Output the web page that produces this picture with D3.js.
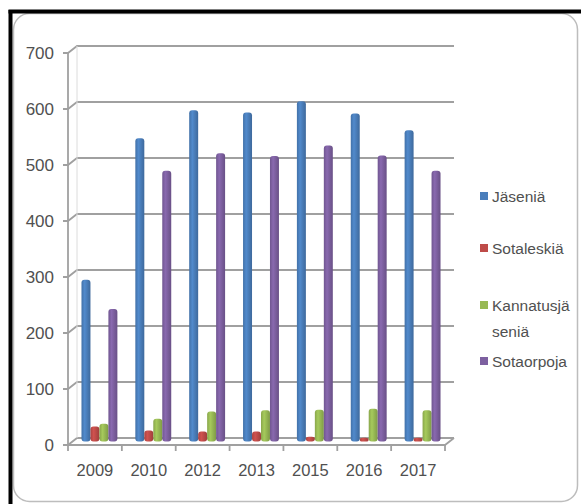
<!DOCTYPE html>
<html><head><meta charset="utf-8">
<script src="https://cdn.jsdelivr.net/npm/d3@7"></script>
<style>
html,body{margin:0;padding:0;background:#fff;}
svg{display:block;}
text{fill:#505050;}
.ax{font-family:"Liberation Sans",Arial,sans-serif;}
.lg{font-family:"Liberation Sans Narrow","Arial Narrow","Liberation Sans",sans-serif;}
</style></head><body>
<script>
const years = ["2009","2010","2012","2013","2015","2016","2017"];
const seriesNames = ["Jäseniä","Sotaleskiä","Kannatusjä seniä","Sotaorpoja"];
const jasenia     = [286, 539, 589, 585, 605, 583, 553];
const sotaleskia  = [24, 17, 15, 15, 6, 4, 4];
const kannatus    = [29, 38, 51, 53, 54, 56, 53];
const sotaorpoja  = [234, 481, 512, 507, 526, 508, 481];
const yTicks = [0,100,200,300,400,500,600,700];
const colors = ["#4A7EBB","#BE4B48","#98B954","#7D60A0"];
const seriesValues = [jasenia, sotaleskia, kannatus, sotaorpoja];

const W=581,H=504;
const svg=d3.select("body").append("svg").attr("width",W).attr("height",H);

// frame
svg.append("rect").attr("x",13.5).attr("y",13.5).attr("width",564).attr("height",488)
  .attr("rx",16).attr("fill","#fff").attr("stroke","#bdbdbd").attr("stroke-width",1.5);
svg.append("line").attr("x1",10.5).attr("x2",10.5).attr("y1",10).attr("y2",504).attr("stroke","#000").attr("stroke-width",4);
svg.append("line").attr("x1",8.5).attr("x2",581).attr("y1",11.5).attr("y2",11.5).attr("stroke","#000").attr("stroke-width",4);

const x=d3.scaleBand().domain(years).range([68,445]).padding(0);
const y=d3.scaleLinear().domain([0,700]).range([445,53]);
const xs=d3.scaleBand().domain(seriesNames).range([0,x.bandwidth()]).paddingInner(0).paddingOuter(1);
const DX=9, DY=-7;
const gridCol="#a0a0a0";

// back gridlines with connectors to front axis
const g=svg.append("g");
yTicks.forEach(t=>{
  const yf=y(t);
  g.append("path").attr("d",`M${x.range()[0]-5},${yf}L${x.range()[0]},${yf}L${x.range()[0]+DX},${yf+DY}L${x.range()[1]+DX},${yf+DY}`)
   .attr("fill","none").attr("stroke",gridCol).attr("stroke-width",1.8);
});
// y axis line
g.append("line").attr("x1",68).attr("x2",68).attr("y1",y(700)).attr("y2",y(0)).attr("stroke",gridCol).attr("stroke-width",1.8);
g.append("line").attr("x1",68+DX).attr("x2",68+DX).attr("y1",y(700)+DY).attr("y2",y(0)+DY).attr("stroke","#dcdcdc").attr("stroke-width",1);

// gradients
const defs=svg.append("defs");
colors.forEach((c,i)=>{
  const gr=defs.append("linearGradient").attr("id","g"+i).attr("x1","0").attr("x2","1").attr("y1","0").attr("y2","0");
  const cc=d3.color(c);
  gr.append("stop").attr("offset","0%").attr("stop-color",cc.darker(0.3));
  gr.append("stop").attr("offset","35%").attr("stop-color",cc.brighter(0.25));
  gr.append("stop").attr("offset","100%").attr("stop-color",cc.darker(0.5));
});

// bars at mid-depth
const bars=svg.append("g");
seriesNames.forEach((s,si)=>{
  years.forEach((yr,i)=>{
    const v=seriesValues[si][i];
    const bx=x(yr)+xs(s)+DX/2;
    const by0=y(0)+DY/2, by1=y(v)+DY/2;
    bars.append("rect").attr("x",bx).attr("y",by1-1.5).attr("width",xs.bandwidth())
      .attr("height",Math.max(by0-by1+1.5,2)).attr("rx",3).attr("fill",`url(#g${si})`);
  });
});

// floor lines
const fl=svg.append("g");
fl.append("path").attr("d",`M68,${y(0)}L${445},${y(0)}L${445+DX},${y(0)+DY}`).attr("fill","none").attr("stroke",gridCol).attr("stroke-width",1.8);
// x ticks
x.domain().concat(["end"]).forEach((yr,i)=>{
  const xx= i<years.length ? x(yr) : 445;
  fl.append("line").attr("x1",xx).attr("x2",xx).attr("y1",y(0)).attr("y2",y(0)+6).attr("stroke",gridCol).attr("stroke-width",1.8);
});

// y labels
svg.append("g").attr("class","ax").selectAll("text").data(yTicks).join("text")
  .attr("x",54).attr("y",d=>y(d)).attr("dy","0.36em").attr("text-anchor","end")
  .attr("font-size",17).text(d=>d);
// x labels
svg.append("g").attr("class","ax").selectAll("text").data(years).join("text")
  .attr("x",d=>x(d)+x.bandwidth()/2).attr("y",476).attr("text-anchor","middle")
  .attr("font-size",16.5).text(d=>d);

// legend
const legY=[196,248,305,361];
const lg=svg.append("g").attr("class","lg");
seriesNames.forEach((s,i)=>{
  lg.append("rect").attr("x",480).attr("y",legY[i]-4).attr("width",8).attr("height",8).attr("fill",colors[i]);
  if(s==="Kannatusjä seniä"){
    lg.append("text").attr("x",492).attr("y",legY[i]).attr("dy","0.36em").attr("font-size",15.5).text("Kannatusjä");
    lg.append("text").attr("x",492).attr("y",legY[i]+26).attr("dy","0.36em").attr("font-size",15.5).text("seniä");
  } else {
    lg.append("text").attr("x",492).attr("y",legY[i]).attr("dy","0.36em").attr("font-size",15.5).text(s);
  }
});
</script>
</body></html>
